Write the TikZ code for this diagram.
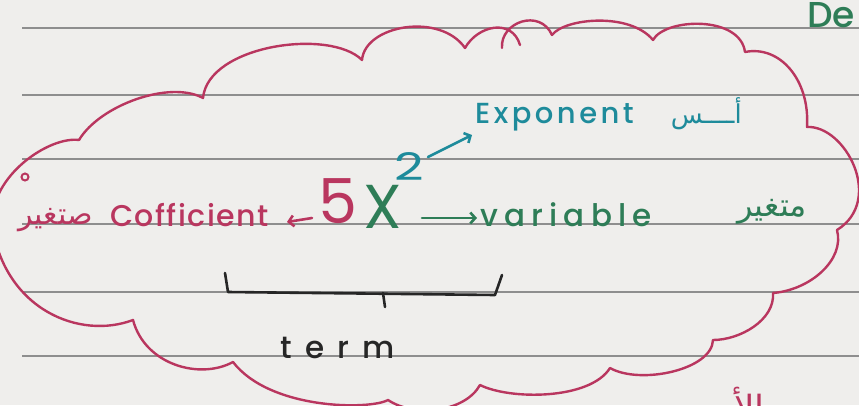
\documentclass[tikz,border=0pt]{standalone}
\usepackage{fontspec}
\setmainfont{Poppins}[BoldFont={Poppins Medium}]
\newfontfamily\arabicfont[Script=Arabic]{DejaVu Sans}
\TeXXeTstate=1
\usetikzlibrary{arrows.meta}
\definecolor{paper}{HTML}{EFEEEC}
\definecolor{rulegray}{HTML}{8E8E8E}
\definecolor{cloudpink}{HTML}{B9365F}
\definecolor{inkteal}{HTML}{1E8B9B}
\definecolor{inkgreen}{HTML}{2E7D57}
\definecolor{inkblack}{HTML}{262626}
\tikzset{
  rule/.style={draw=rulegray, line width=1.2pt},
  cloudline/.style={draw=cloudpink, line width=2.4pt, line cap=round, line join=round},
  pen/.style={line width=2.6pt, line cap=round, line join=round},
  arr/.style={pen, -{Straight Barb[length=5pt,width=11pt]}},
  hw/.style={inner sep=0pt, anchor=base west},
  hwe/.style={inner sep=0pt, anchor=base east},
}
\begin{document}
\begin{tikzpicture}[x=1pt,y=-1pt]
\path[use as bounding box] (0,0) rectangle (859,405);
\clip (0,0) rectangle (859,405);
\fill[paper] (0,0) rectangle (859,405);
% ruled lines
\foreach \yy in {28,95,159,224,292,356} \draw[rule] (22,\yy) -- (859,\yy);
% cloud
\draw[cloudline] (79,140) .. controls (100,105) and (170,80) .. (203,98)
  .. controls (208,45) and (330,28) .. (362,60)
  .. controls (365,25) and (440,12) .. (465,48)
  .. controls (478,25) and (512,18) .. (520,45);
\draw[cloudline] (502,48) .. controls (500,22) and (540,8) .. (552,35)
  .. controls (565,18) and (630,12) .. (653,40)
  .. controls (665,18) and (740,15) .. (745,52)
  .. controls (780,45) and (810,80) .. (807,127)
  .. controls (845,125) and (885,200) .. (837,230)
  .. controls (845,260) and (810,290) .. (773,293)
  .. controls (775,320) and (740,340) .. (713,340)
  .. controls (712,370) and (640,385) .. (610,368)
  .. controls (590,400) and (510,400) .. (480,385)
  .. controls (465,412) and (415,418) .. (388,400)
  .. controls (370,410) and (270,410) .. (233,362)
  .. controls (200,380) and (145,365) .. (133,320)
  .. controls (80,340) and (5,310) .. (-8,225)
  .. controls (-10,175) and (50,136) .. (79,140);
\draw[cloudpink, line width=2pt] (25,177) circle (3.5);
% texts
\node[hw, text=inkgreen, font=\bfseries\fontsize{36}{36}\selectfont] (de) at (807,27) {De};
\node[hw, text=inkteal, font=\bfseries\fontsize{29}{30}\selectfont\addfontfeature{LetterSpace=12}] (expo) at (475,123) {Exponent};
\node[hwe, text=inkteal, font=\arabicfont\fontsize{26}{30}\selectfont] (as) at (742,123) {\beginR أــــس\endR};
\node[hw, text=inkteal, font=\fontsize{38}{38}\selectfont] (two) at (394,180) {\scalebox{1.35}[1]{2}};
\node[hw, text=cloudpink, font=\fontsize{62}{62}\selectfont] (five) at (318,223) {5};
\node[hw, text=inkgreen, font=\fontsize{62}{62}\selectfont] (xx) at (363,228) {X};
\node[hw, text=inkgreen, font=\bfseries\fontsize{31}{32}\selectfont\addfontfeature{LetterSpace=20}] (var) at (480,226) {variable};
\node[hwe, text=inkgreen, font=\arabicfont\fontsize{32}{32}\selectfont] (mut) at (807,216) {\beginR متغير\endR};
\node[hw, text=cloudpink, font=\bfseries\fontsize{30}{32}\selectfont\addfontfeature{LetterSpace=5}] (coef) at (110,226) {Cofficient};
\node[hwe, text=cloudpink, font=\arabicfont\fontsize{30}{30}\selectfont] (sut) at (93,224) {\beginR صتغير\endR};
\node[hw, text=inkblack, font=\bfseries\fontsize{31}{32}\selectfont\addfontfeature{LetterSpace=43}] (term) at (280,358) {term};
\node[hwe, text=cloudpink, font=\arabicfont\fontsize{36}{36}\selectfont] (bot) at (765,421) {\beginR الأس\endR};
% arrows
\coordinate (a1) at (428,157); \coordinate (a2) at (472,135);
\draw[arr, inkteal] (a1) -- (a2);
\coordinate (b1) at (422,218); \coordinate (b2) at (477,218);
\draw[arr, inkgreen] (b1) -- (b2);
\coordinate (c1) at (312,218); \coordinate (c2) at (287,222);
\draw[arr, cloudpink] (c1) -- (c2);
% brace
\coordinate (k1) at (225,273); \coordinate (k2) at (228,292);
\coordinate (k3) at (495,295); \coordinate (k4) at (502,275);
\coordinate (m1) at (383,293); \coordinate (m2) at (385,307);
\draw[pen, inkblack] (k1) -- (k2) -- (k3) -- (k4);
\draw[pen, inkblack] (m1) -- (m2);
\end{tikzpicture}
\end{document}
